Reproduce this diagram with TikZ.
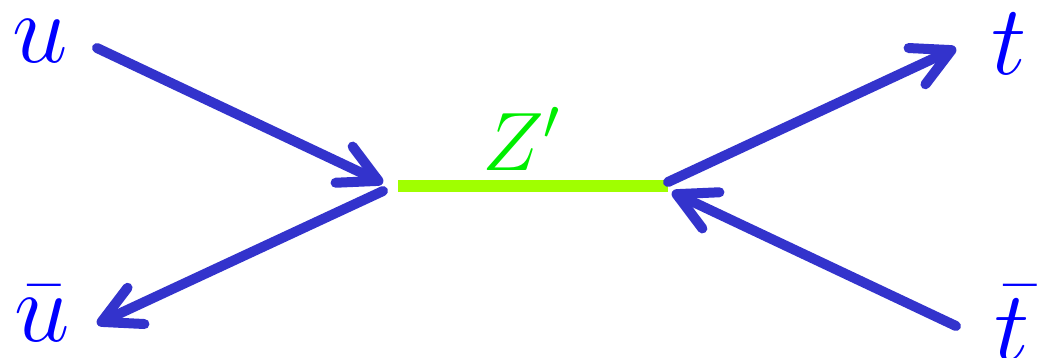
\documentclass[tikz,border=0pt]{standalone}
\usetikzlibrary{arrows.meta}
\definecolor{fermion}{RGB}{51,51,204}
\definecolor{boson}{RGB}{160,255,0}
\definecolor{zlabel}{RGB}{0,238,0}
\definecolor{plabel}{RGB}{0,0,255}
\begin{document}
\begin{tikzpicture}[x=0.25pt,y=-0.25pt,
  fline/.style={draw=fermion,line width=2.5pt,line cap=round,line join=round,
    -{Straight Barb[length=9.5pt,width=10pt,line cap=round,line join=round]}},
  bline/.style={draw=boson,line width=3.2pt},
  plab/.style={text=plabel,inner sep=0pt,font=\fontsize{23}{28}\selectfont},
  zlab/.style={text=zlabel,inner sep=0pt,font=\fontsize{20}{24}\selectfont}]
\useasboundingbox (0,0) rectangle (1037,357);
% labels
\node[plab] (u) at (40,41) {$u$};
\node[plab] (ub) at (42,314) {$\bar u$};
\node[plab] (t) at (1009,44) {$t$};
\node[plab] (tb) at (1012,323) {$\bar t$};
\node[zlab] (z) at (522,139) {$Z'$};
% coordinates
\coordinate (ua) at (97,48);
\coordinate (ut) at (383,183);
\coordinate (uba) at (383,191);
\coordinate (ubt) at (97,324);
\coordinate (v1) at (398,186);
\coordinate (v2) at (668,186);
\coordinate (ta) at (668,182);
\coordinate (tt) at (956,48);
\coordinate (tba) at (956,326);
\coordinate (tbt) at (672,192);
% lines
\draw[bline] (v1) -- (v2);
\draw[fline] (ua) -- (ut);
\draw[fline] (uba) -- (ubt);
\draw[fline] (ta) -- (tt);
\draw[fline] (tba) -- (tbt);
\end{tikzpicture}
\end{document}
